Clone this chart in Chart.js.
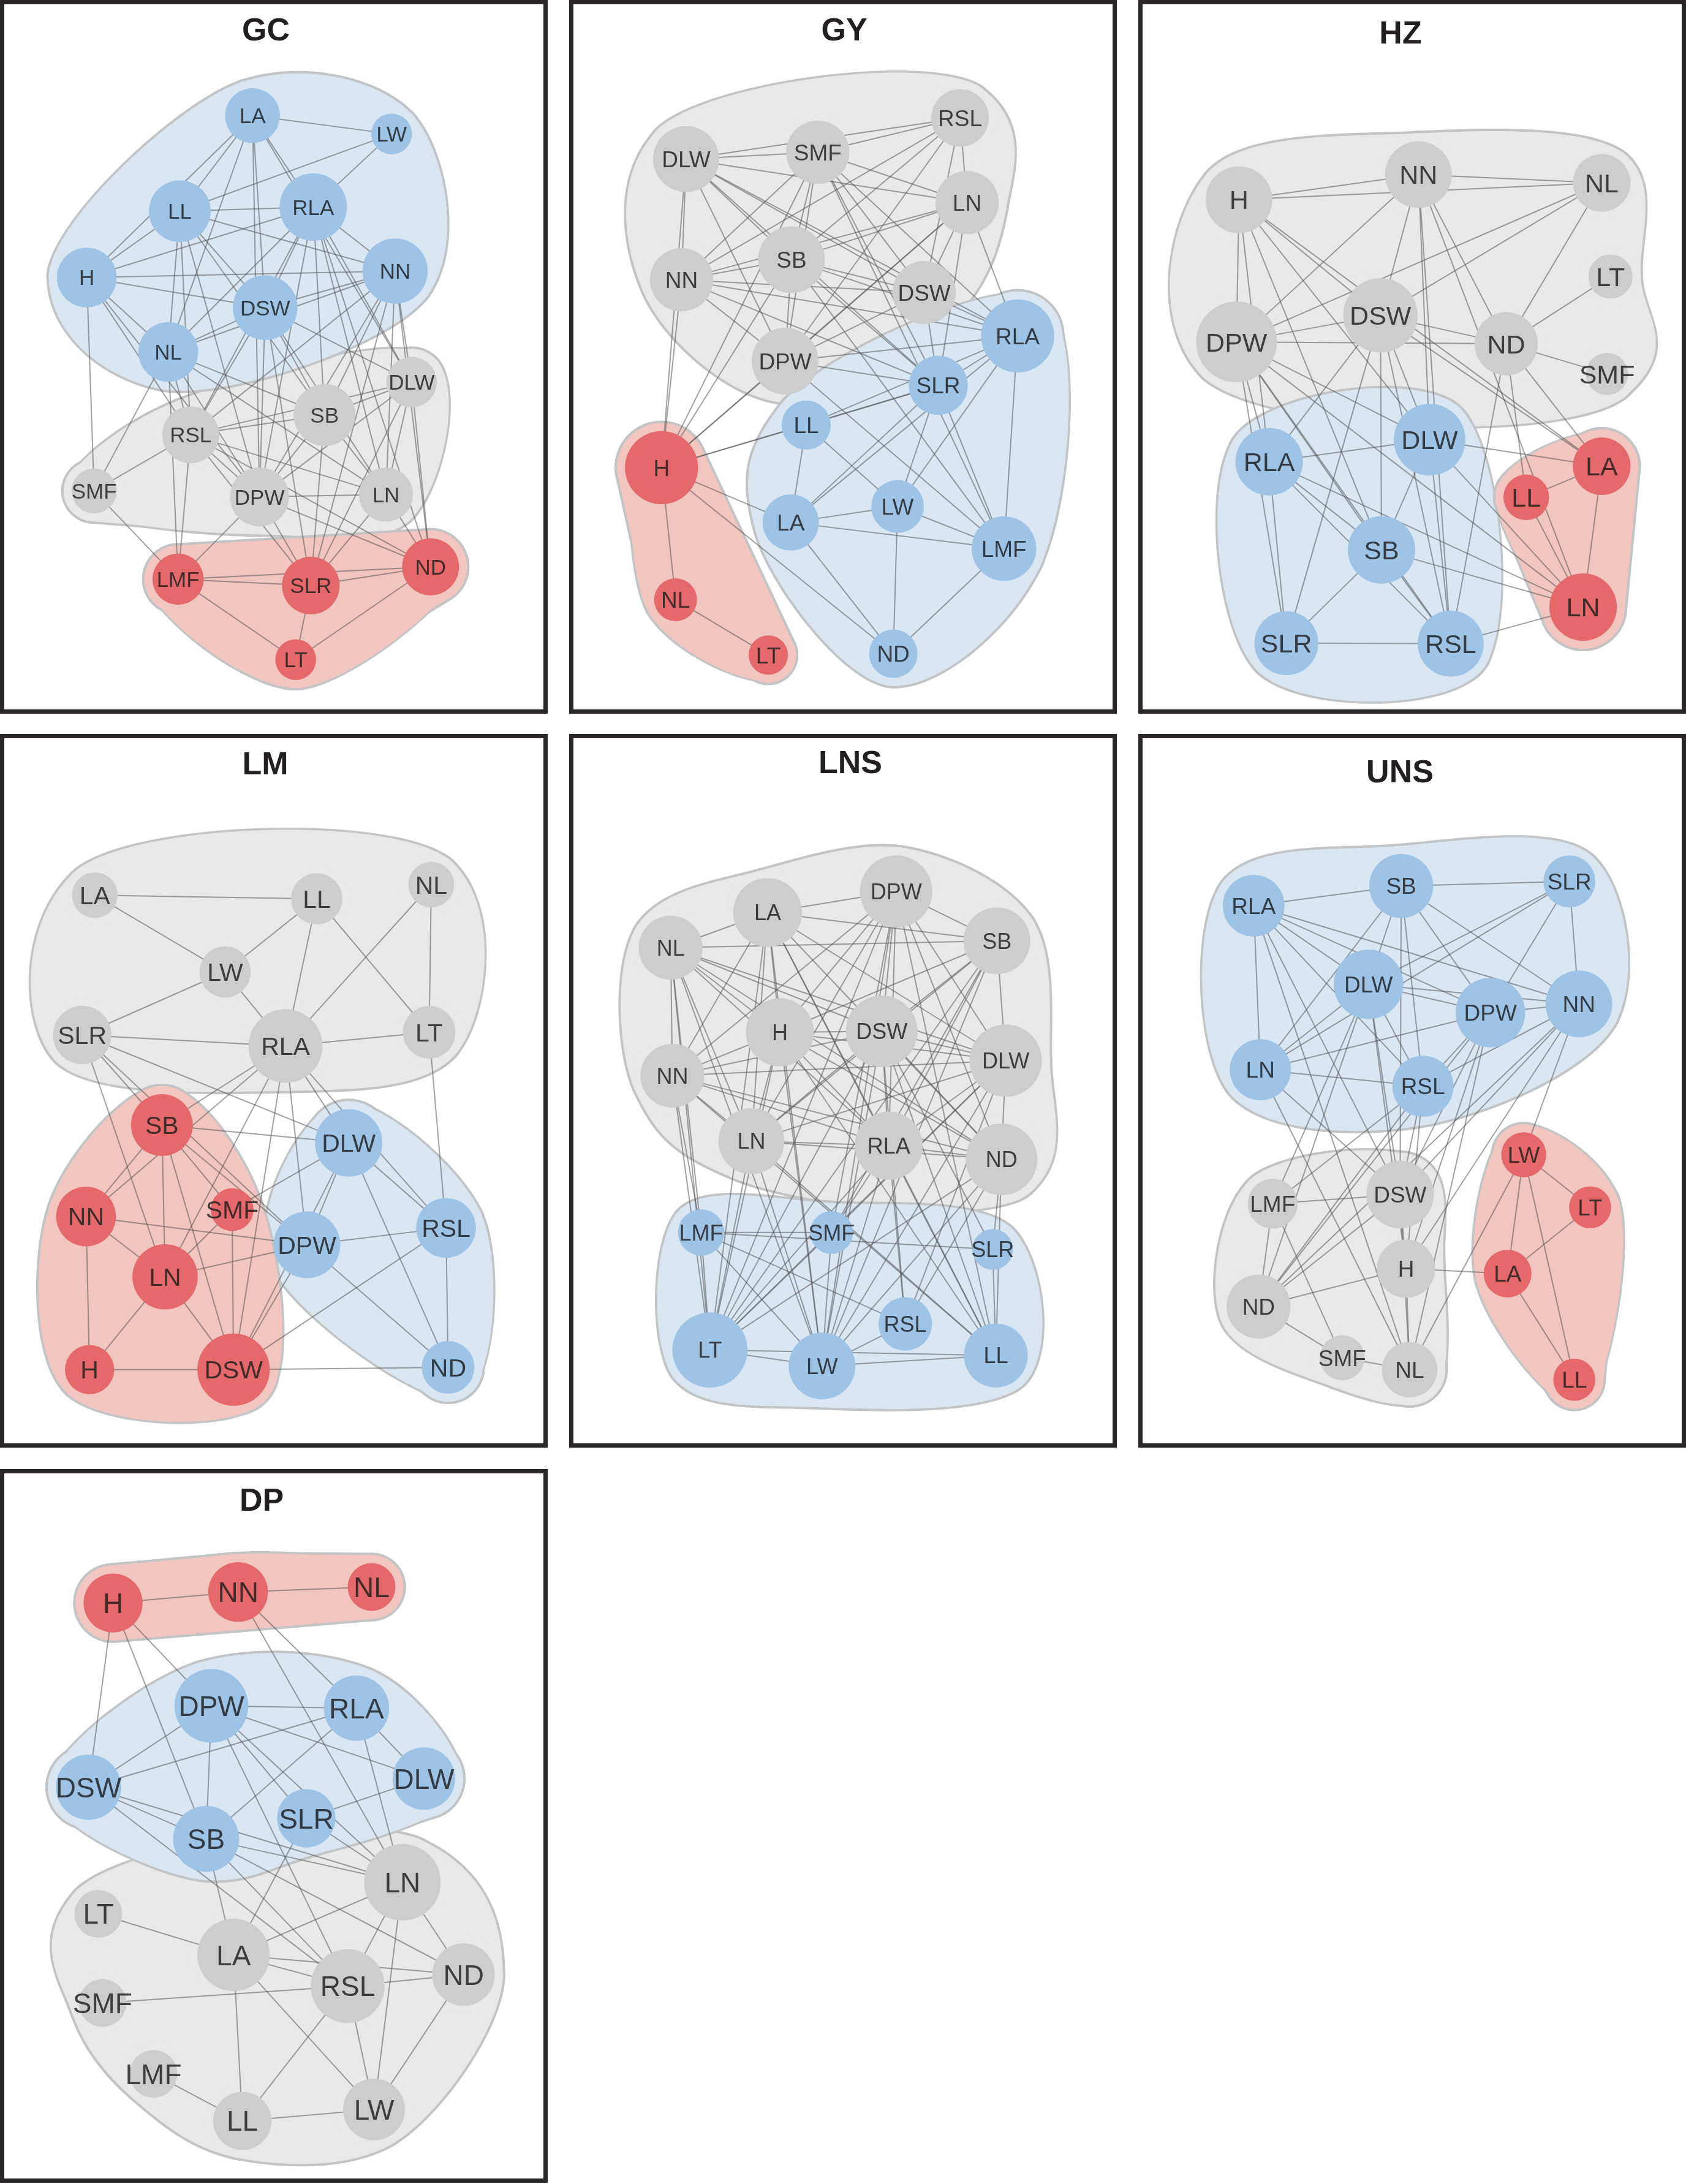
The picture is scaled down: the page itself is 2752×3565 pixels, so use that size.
<!DOCTYPE html>
<html><head><meta charset="utf-8">
<script src="https://cdn.jsdelivr.net/npm/chart.js@4.4.1/dist/chart.umd.min.js"></script>
<style>
html,body{margin:0;padding:0;background:#fff;}
body{width:2752px;height:3565px;position:relative;overflow:hidden;}
.frame{position:absolute;border:7px solid #2b2627;box-sizing:border-box;width:894px;height:1165px;z-index:5;pointer-events:none;}
canvas{position:absolute;z-index:1;}
</style></head><body>
<script>
// ---------------- DATA (layout coordinates in a 1570 x 1568 space per panel) ----------------
// GC
const GC_names = ["LA","LW","LL","RLA","H","NN","DSW","NL","DLW","SB","RSL","SMF","DPW","LN","LMF","SLR","ND","LT"];
const GC_x = [719,1115,512,892,247,1125,755,479,1172,924,543,268,739,1099,507,885,1226,842];
const GC_y = [253,293,462,453,607,593,673,770,836,908,951,1074,1087,1082,1267,1281,1240,1443];
const GC_size = [78,58,88,96,85,93,92,85,72,88,81,64,84,77,73,82,81,58];
const GC_group = ["b","b","b","b","b","b","b","b","g","g","g","g","g","g","r","r","r","r"];
const GC_edges = ["LA-LW","LA-LL","LA-H","LA-NL","LA-DSW","LA-DPW","LA-RLA","LA-DLW","LW-LL","LW-RLA",
"LL-RLA","LL-H","LL-NN","LL-NL","LL-RSL","LL-DSW","LL-DPW","LL-SB",
"RLA-H","RLA-NN","RLA-DSW","RLA-NL","RLA-RSL","RLA-DPW","RLA-SB","RLA-LN","RLA-ND","RLA-DLW",
"H-NN","H-DSW","H-NL","H-RSL","H-DPW","H-SMF",
"NN-DSW","NN-NL","NN-RSL","NN-SB","NN-DPW","NN-SLR","NN-DLW","NN-LN","NN-ND",
"DSW-NL","DSW-RSL","DSW-DPW","DSW-SB","DSW-DLW","DSW-LN","DSW-SLR",
"NL-SMF","NL-RSL","NL-SB","NL-LN","NL-LMF","NL-DPW",
"RSL-SB","RSL-DLW","RSL-SMF","RSL-DPW","RSL-LN","RSL-ND","RSL-LMF","RSL-SLR",
"SB-DLW","SB-DPW","SB-LN","SB-SLR","LMF-DPW",
"DLW-DPW","DLW-LN","DLW-ND","DLW-SLR","DPW-LN","DPW-SLR","DPW-ND","LN-SLR","LN-ND",
"SMF-LMF","LMF-SLR","LMF-ND","LMF-LT","SLR-ND","SLR-LT","ND-LT"];

// GY
const GY_names = ["DLW","SMF","RSL","LN","SB","NN","DSW","DPW","RLA","SLR","LL","LA","LW","LMF","ND","H","NL","LT"];
const GY_x = [340,715,1120,1140,640,327,1018,622,1284,1058,682,638,942,1245,930,270,310,574];
const GY_y = [348,333,258,443,568,612,640,790,735,843,930,1143,1108,1200,1430,1023,1312,1433];
const GY_size = [94,90,82,90,95,90,90,95,104,84,70,80,75,92,69,104,61,56];
const GY_group = ["g","g","g","g","g","g","g","g","b","b","b","b","b","b","b","r","r","r"];
const GY_edges = ["DLW-SMF","DLW-RSL","DLW-LN","DLW-NN","DLW-H","DLW-SB","DLW-DPW","DLW-DSW","DLW-SLR","DLW-RLA",
"SMF-RSL","SMF-LN","SMF-NN","SMF-SB","SMF-DPW","SMF-DSW","SMF-SLR","SMF-RLA","SMF-LMF","SMF-H",
"RSL-LN","RSL-SB","RSL-NN","RSL-DPW","RSL-DSW",
"LN-SB","LN-NN","LN-DPW","LN-DSW","LN-SLR","LN-RLA",
"SB-NN","SB-DPW","SB-DSW","SB-RLA","SB-SLR","SB-LMF","SB-H",
"NN-DPW","NN-DSW","NN-RLA","NN-SLR","NN-H",
"DSW-DPW","DSW-RLA","DSW-SLR","DPW-RLA","DPW-SLR","DPW-H","DPW-LMF",
"RLA-SLR","RLA-LL","RLA-LA","RLA-LW","RLA-LMF",
"SLR-LL","SLR-H","SLR-LA","SLR-LW","SLR-LMF",
"LL-LA","LL-LW","LL-H","LA-LW","LA-LMF","LA-ND","LA-H",
"LW-LMF","LW-ND","LMF-ND","H-LN","H-ND","H-NL","NL-LT"];

// HZ
const HZ_names = ["H","NN","NL","LT","DSW","DPW","ND","SMF","DLW","RLA","SB","SLR","RSL","LA","LL","LN"];
const HZ_x = [297,808,1330,1355,700,290,1058,1345,840,383,703,432,900,1330,1115,1277];
const HZ_y = [437,382,400,605,690,748,752,818,962,1010,1203,1407,1408,1020,1088,1328];
const HZ_size = [95,95,82,63,106,115,90,60,102,96,96,91,94,82,65,96];
const HZ_group = ["g","g","g","g","g","g","g","g","b","b","b","b","b","r","r","r"];
const HZ_edges = ["H-NN","H-NL","H-DPW","H-RLA","H-SB","H-DSW","H-DLW","H-LA",
"NN-NL","NN-DPW","NN-DSW","NN-DLW","NN-ND","NN-LN","NN-RSL",
"NL-DPW","NL-DSW","NL-ND","LT-ND","ND-SMF",
"DSW-DPW","DSW-ND","DSW-RLA","DSW-SLR","DSW-SB","DSW-DLW","DSW-RSL","DSW-LA",
"DPW-ND","DPW-RLA","DPW-SB","DPW-DLW","DPW-RSL","DPW-LN","DPW-SLR",
"ND-LL","ND-RSL","ND-LA",
"DLW-RLA","DLW-SB","DLW-RSL","DLW-LA","DLW-LN",
"RLA-SLR","RLA-SB","RLA-RSL","RLA-LN",
"SB-SLR","SB-RSL","SB-LN","SLR-RSL","RSL-LN","LA-LL","LA-LN","LL-LN"];

// LM
const LM_names = ["LA","LL","NL","LW","SLR","RLA","LT","SB","NN","SMF","LN","H","DSW","DLW","DPW","RSL","ND"];
const LM_x = [270,902,1228,641,234,813,1222,461,245,661,470,255,665,993,874,1270,1276];
const LM_y = [350,358,327,518,656,680,650,853,1053,1038,1185,1388,1388,892,1115,1078,1383];
const LM_size = [65,73,65,73,83,105,75,88,85,61,93,70,103,96,95,85,75];
const LM_group = ["g","g","g","g","g","g","g","r","r","r","r","r","r","b","b","b","b"];
const LM_edges = ["LA-LL","LA-LW","LL-LW","LL-RLA","LL-LT","NL-RLA","NL-LT","LW-SLR","LW-RLA","SLR-RLA","RLA-LT",
"SLR-SB","SLR-LN","SLR-DLW","SLR-DPW",
"RLA-SB","RLA-LN","RLA-DSW","RLA-DPW","RLA-DLW","RLA-RSL","RLA-NN","LT-RSL",
"SB-NN","SB-LN","SB-DPW","SB-DSW","SB-DLW","SB-SMF",
"NN-LN","NN-H","NN-DPW","SMF-LN","SMF-DSW","SMF-DLW",
"LN-DPW","LN-DSW","LN-H","H-DSW",
"DSW-ND","DSW-DPW","DSW-RSL","DSW-DLW",
"DLW-DPW","DLW-RSL","DLW-ND","DPW-RSL","DPW-ND","RSL-ND"];

// LNS
const LNS_names = ["NL","LA","DPW","SB","H","DSW","DLW","NN","LN","RLA","ND","LMF","SMF","SLR","RSL","LT","LW","LL"];
const LNS_x = [296,572,938,1225,607,897,1250,301,526,917,1238,383,754,1213,964,408,727,1222];
const LNS_y = [465,388,342,450,650,648,712,745,888,898,928,1088,1088,1125,1288,1345,1380,1357];
const LNS_size = [91,98,103,95,97,102,103,91,94,97,102,66,61,58,76,107,95,91];
const LNS_group = ["g","g","g","g","g","g","g","g","g","g","g","b","b","b","b","b","b","b"];
const LNS_edges = ["NL-LA","NL-SB","NL-NN","NL-H","NL-DSW","NL-DLW","NL-LN","NL-RLA","NL-ND","NL-LMF","NL-LT","NL-LW",
"LA-DPW","LA-SB","LA-NN","LA-H","LA-LN","LA-RLA","LA-ND","LA-DLW","LA-LT","LA-LW","LA-LL",
"DPW-SB","DPW-H","DPW-DSW","DPW-NN","DPW-LN","DPW-RLA","DPW-DLW","DPW-ND","DPW-LT","DPW-SMF","DPW-LW","DPW-LL",
"SB-H","SB-DSW","SB-DLW","SB-LN","SB-RLA","SB-LT","SB-SMF","SB-LW",
"H-DSW","H-NN","H-DLW","H-LN","H-RLA","H-ND","H-LW","H-LT","H-LL",
"DSW-NN","DSW-DLW","DSW-LN","DSW-RLA","DSW-ND","DSW-LT","DSW-LW","DSW-RSL","DSW-LL","DSW-SLR",
"DLW-NN","DLW-RLA","DLW-ND","DLW-LN","DLW-LT","DLW-LW","DLW-RSL","DLW-SMF",
"NN-LN","NN-RLA","NN-ND","NN-LMF","NN-LT","NN-LL",
"LN-RLA","LN-ND","LN-LT","LN-LW","LN-LL",
"RLA-ND","RLA-SMF","RLA-LT","RLA-LW","RLA-RSL","RLA-LL",
"ND-SLR","ND-LT","ND-LW","ND-RSL","ND-LL",
"LMF-SMF","LMF-SLR","LMF-LT","LMF-RSL","LMF-LW",
"SMF-LT","SMF-LW","SLR-LL","RSL-LW","LT-LW","LT-LL","LW-LL"];

// UNS
const UNS_names = ["RLA","SB","SLR","DLW","DPW","NN","LN","RSL","LMF","DSW","H","ND","SMF","NL","LW","LT","LA","LL"];
const UNS_x = [339,759,1238,666,1013,1265,358,821,393,756,773,353,591,783,1108,1297,1062,1252];
const UNS_y = [373,330,320,545,607,588,732,768,1025,1005,1167,1250,1362,1388,918,1033,1178,1410];
const UNS_size = [88,91,74,99,99,95,87,87,71,96,83,91,64,79,64,60,68,60];
const UNS_group = ["b","b","b","b","b","b","b","b","g","g","g","g","g","g","r","r","r","r"];
const UNS_edges = ["RLA-SB","RLA-LN","RLA-DLW","RLA-DPW","RLA-NN","RLA-RSL","RLA-DSW","RLA-NL",
"SB-SLR","SB-DLW","SB-LN","SB-DPW","SB-NN","SB-RSL","SB-DSW",
"SLR-DLW","SLR-DPW","SLR-NN","SLR-LN",
"DLW-DPW","DLW-NN","DLW-LN","DLW-RSL","DLW-DSW","DLW-LMF","DLW-ND","DLW-H",
"DPW-NN","DPW-LN","DPW-RSL","DPW-DSW","DPW-H","DPW-ND","DPW-NL",
"NN-RSL","NN-DSW","NN-ND","NN-H","NN-LW",
"LN-RSL","LN-DSW","LN-NL",
"RSL-DSW","RSL-LMF","RSL-ND","RSL-H",
"LMF-DSW","LMF-ND","LMF-SMF","DSW-H","DSW-NL","DSW-ND",
"H-ND","H-NL","H-LA","ND-SMF","SMF-NL","NL-LW",
"LW-LT","LW-LA","LW-LL","LT-LA","LA-LL"];

// DP
const DP_names = ["H","NN","NL","DPW","RLA","DSW","DLW","SLR","SB","LT","LA","SMF","LMF","LN","RSL","ND","LL","LW"];
const DP_x = [322,678,1058,602,1015,252,1207,872,587,280,665,292,437,1146,990,1320,690,1065];
const DP_y = [297,273,262,522,527,700,681,768,813,977,1067,1172,1327,908,1135,1110,1430,1405];
const DP_size = [84,85,68,105,93,93,89,83,94,68,103,68,68,109,105,89,83,88];
const DP_group = ["r","r","r","b","b","b","b","b","b","g","g","g","g","g","g","g","g","g"];
const DP_edges = ["H-NN","NN-NL","H-DSW","H-SB","H-DPW","NN-LN","NN-RLA",
"DPW-RLA","DPW-DSW","DPW-SB","DPW-DLW","DPW-SLR","DPW-LN","DPW-RSL",
"RLA-DSW","RLA-SB","RLA-DLW","RLA-LN","DSW-SB","DSW-RSL","DSW-LN","DLW-SLR",
"SLR-LN","SLR-LA","SB-LN","SB-LA","SB-RSL","SB-ND",
"LT-LA","SMF-RSL","LMF-LL","LA-LN","LA-RSL","LA-ND","LA-LL","LA-LW",
"LN-RSL","LN-ND","LN-LW","RSL-ND","RSL-LL","RSL-LW","ND-LW","LL-LW"];

const panelTitles = ["GC","GY","HZ","LM","LNS","UNS","DP"];

// ---------------- STYLE / LAYOUT ----------------
const XMAX = 1570, YMAX = 1568, CW = 900, CH = 1170;
const NODE_COL = {b:"#9dc3e6", g:"#cdcdcd", r:"#e5686b"};
const HULL_COL = {b:"#dae6f2", g:"#e9e9e9", r:"#f2c5c1"};
const HULL_LINE = "#c3c4c5";
const HULL_PAD = 15;
const HULL_ORDER = ["g","b","r"];
const panels = [
  {title:"GC", names:GC_names, xs:GC_x, ys:GC_y, sizes:GC_size, groups:GC_group, edges:GC_edges, cx:0, cy:0, fx:0, fy:0, font:35, tx:434, ty:47},
  {title:"GY", names:GY_names, xs:GY_x, ys:GY_y, sizes:GY_size, groups:GY_group, edges:GY_edges, cx:925, cy:0, fx:929, fy:0, font:37, tx:453, ty:47},
  {title:"HZ", names:HZ_names, xs:HZ_x, ys:HZ_y, sizes:HZ_size, groups:HZ_group, edges:HZ_edges, cx:1852, cy:0, fx:1858, fy:0, font:43, tx:434, ty:52},
  {title:"LM", names:LM_names, xs:LM_x, ys:LM_y, sizes:LM_size, groups:LM_group, edges:LM_edges, cx:0, cy:1200, fx:0, fy:1198, font:41, tx:433, ty:45},
  {title:"LNS", names:LNS_names, xs:LNS_x, ys:LNS_y, sizes:LNS_size, groups:LNS_group, edges:LNS_edges, cx:925, cy:1200, fx:929, fy:1198, font:36, tx:463, ty:43},
  {title:"UNS", names:UNS_names, xs:UNS_x, ys:UNS_y, sizes:UNS_size, groups:UNS_group, edges:UNS_edges, cx:1852, cy:1200, fx:1858, fy:1198, font:37, tx:433, ty:58},
  {title:"DP", names:DP_names, xs:DP_x, ys:DP_y, sizes:DP_size, groups:DP_group, edges:DP_edges, cx:0, cy:2395, fx:0, fy:2398, font:46, tx:427, ty:52}
];

function hullIdx(pts){
  const ids = pts.map((p,i)=>i).sort((a,b)=>pts[a][0]-pts[b][0]||pts[a][1]-pts[b][1]);
  const cross=(o,a,b)=>(pts[a][0]-pts[o][0])*(pts[b][1]-pts[o][1])-(pts[a][1]-pts[o][1])*(pts[b][0]-pts[o][0]);
  const lo=[],up=[];
  for(const p of ids){while(lo.length>=2&&cross(lo[lo.length-2],lo[lo.length-1],p)<=0)lo.pop();lo.push(p);}
  for(let i=ids.length-1;i>=0;i--){const p=ids[i];while(up.length>=2&&cross(up[up.length-2],up[up.length-1],p)<=0)up.pop();up.push(p);}
  up.pop();lo.pop();return lo.concat(up);
}

// group outline path: union of rounded convex hull, smooth spline through hull nodes, node circles
function groupPath(ctx, C, R, extra){
  const samp = [];
  C.forEach((c,i)=>{const r=R[i]+extra; for(let k=0;k<72;k++){const a=k/72*Math.PI*2; samp.push([c[0]+r*Math.cos(a), c[1]+r*Math.sin(a)]);}});
  const hs = hullIdx(samp);
  ctx.beginPath();
  hs.forEach((id,j)=>{const p=samp[id]; if(j===0) ctx.moveTo(p[0],p[1]); else ctx.lineTo(p[0],p[1]);});
  ctx.closePath(); ctx.fill();
  const h = hullIdx(C);
  if (h.length >= 3){
    const cen = [0,0]; C.forEach(c=>{cen[0]+=c[0]/C.length; cen[1]+=c[1]/C.length;});
    const n = h.length, Q = [], N = [];
    for (let j=0;j<n;j++){
      const p0=C[h[(j-1+n)%n]], p1=C[h[j]], p2=C[h[(j+1)%n]];
      const d1=[p1[0]-p0[0],p1[1]-p0[1]], d2=[p2[0]-p1[0],p2[1]-p1[1]];
      const l1=Math.hypot(d1[0],d1[1])||1, l2=Math.hypot(d2[0],d2[1])||1;
      let nx = d1[1]/l1 + d2[1]/l2, ny = -d1[0]/l1 - d2[0]/l2;
      let ln = Math.hypot(nx,ny);
      if (ln < 1e-6){ nx = p1[0]-cen[0]; ny = p1[1]-cen[1]; ln = Math.hypot(nx,ny)||1; }
      nx/=ln; ny/=ln;
      if (nx*(p1[0]-cen[0]) + ny*(p1[1]-cen[1]) < 0){ nx=-nx; ny=-ny; }
      const r = R[h[j]] + extra;
      Q.push([p1[0]+nx*r, p1[1]+ny*r]); N.push([nx,ny]);
    }
    // tangents: Catmull-Rom magnitude, direction perpendicular to the outward normal
    const T = Q.map((q,j)=>{
      const a=Q[(j-1+n)%n], c=Q[(j+1)%n];
      const tx=(c[0]-a[0])/2, ty=(c[1]-a[1])/2, m=Math.hypot(tx,ty);
      let px=-N[j][1], py=N[j][0];
      if (px*(c[0]-q[0])+py*(c[1]-q[1]) < 0){px=-px;py=-py;}
      return [px*m, py*m];
    });
    ctx.beginPath();
    ctx.moveTo(Q[0][0],Q[0][1]);
    for (let j=0;j<n;j++){
      const b=Q[j], c=Q[(j+1)%n], tb=T[j], tc=T[(j+1)%n];
      ctx.bezierCurveTo(b[0]+tb[0]/3, b[1]+tb[1]/3, c[0]-tc[0]/3, c[1]-tc[1]/3, c[0], c[1]);
    }
    ctx.closePath(); ctx.fill();
  }
  C.forEach((c,i)=>{ctx.beginPath(); ctx.arc(c[0],c[1],R[i]+extra,0,Math.PI*2); ctx.fill();});
}

const netPlugin = {
  id:'net',
  beforeDatasetsDraw(chart, args, o){
    const ctx = chart.ctx, sx = chart.scales.x, sy = chart.scales.y;
    const unit = chart.chartArea.width / XMAX;
    const off = document.createElement('canvas'); off.width = chart.width; off.height = chart.height;
    const octx = off.getContext('2d');
    for (const g of HULL_ORDER){
      const C = [], R = [];
      o.groups.forEach((gg,i)=>{
        if (gg!==g) return;
        C.push([sx.getPixelForValue(o.xs[i]), sy.getPixelForValue(o.ys[i])]);
        R.push(o.sizes[i]*unit + HULL_PAD);
      });
      if (!C.length) continue;
      octx.clearRect(0,0,off.width,off.height);
      octx.fillStyle = HULL_LINE; groupPath(octx, C, R, 2);
      octx.fillStyle = HULL_COL[g]; groupPath(octx, C, R, -2);
      ctx.drawImage(off, 0, 0);
    }
  },
  afterDatasetsDraw(chart, args, o){
    const ctx = chart.ctx, sx = chart.scales.x, sy = chart.scales.y;
    ctx.save();
    ctx.font = o.font + 'px "Liberation Sans", Arial, sans-serif';
    ctx.textAlign = 'center'; ctx.textBaseline = 'alphabetic';
    ctx.fillStyle = 'rgba(28,28,28,0.82)';
    o.names.forEach((n,i)=>{
      const px = sx.getPixelForValue(o.xs[i]), py = sy.getPixelForValue(o.ys[i]);
      ctx.fillText(n, px, py + o.font*0.716/2);
    });
    ctx.font = 'bold 52px "Liberation Sans", Arial, sans-serif';
    ctx.fillStyle = '#231f20';
    ctx.fillText(o.title, o.tx, o.ty + 52*0.716/2);
    ctx.restore();
  }
};

panels.forEach(p=>{
  const fr = document.createElement('div'); fr.className='frame';
  fr.style.left = p.fx+'px'; fr.style.top = p.fy+'px';
  document.body.appendChild(fr);
  const cv = document.createElement('canvas');
  cv.width = CW; cv.height = CH;
  cv.style.left = p.cx+'px'; cv.style.top = p.cy+'px';
  cv.style.width = CW+'px'; cv.style.height = CH+'px';
  document.body.appendChild(cv);
  const idx = {}; p.names.forEach((n,i)=>idx[n]=i);
  const datasets = [];
  datasets.push({
    label:'nodes', type:'scatter', order:0, clip:false,
    data: p.names.map((n,i)=>({x:p.xs[i], y:p.ys[i]})),
    pointRadius: p.sizes.map(s=>s*CW/XMAX),
    pointHoverRadius: p.sizes.map(s=>s*CW/XMAX),
    pointBackgroundColor: p.groups.map(g=>NODE_COL[g]),
    pointBorderWidth: 0, pointBorderColor:'rgba(0,0,0,0)'
  });
  p.edges.forEach(e=>{
    const [a,b] = e.split('-');
    if (idx[a]===undefined || idx[b]===undefined) return;
    datasets.push({
      label:e, type:'scatter', order:1, showLine:true, clip:false,
      data:[{x:p.xs[idx[a]], y:p.ys[idx[a]]},{x:p.xs[idx[b]], y:p.ys[idx[b]]}],
      borderColor:'rgba(85,85,85,0.55)', borderWidth:2, pointRadius:0, pointHoverRadius:0
    });
  });
  new Chart(cv, {
    type:'scatter',
    data:{datasets},
    options:{
      responsive:false, animation:false, devicePixelRatio:1, events:[],
      layout:{padding:0, autoPadding:false},
      scales:{
        x:{type:'linear', min:0, max:XMAX, display:false},
        y:{type:'linear', min:0, max:YMAX, reverse:true, display:false}
      },
      plugins:{legend:{display:false}, tooltip:{enabled:false}, title:{display:false},
        net:{title:p.title, tx:p.tx, ty:p.ty, font:p.font, names:p.names, xs:p.xs, ys:p.ys, sizes:p.sizes, groups:p.groups}}
    },
    plugins:[netPlugin]
  });
});
</script>
</body></html>
